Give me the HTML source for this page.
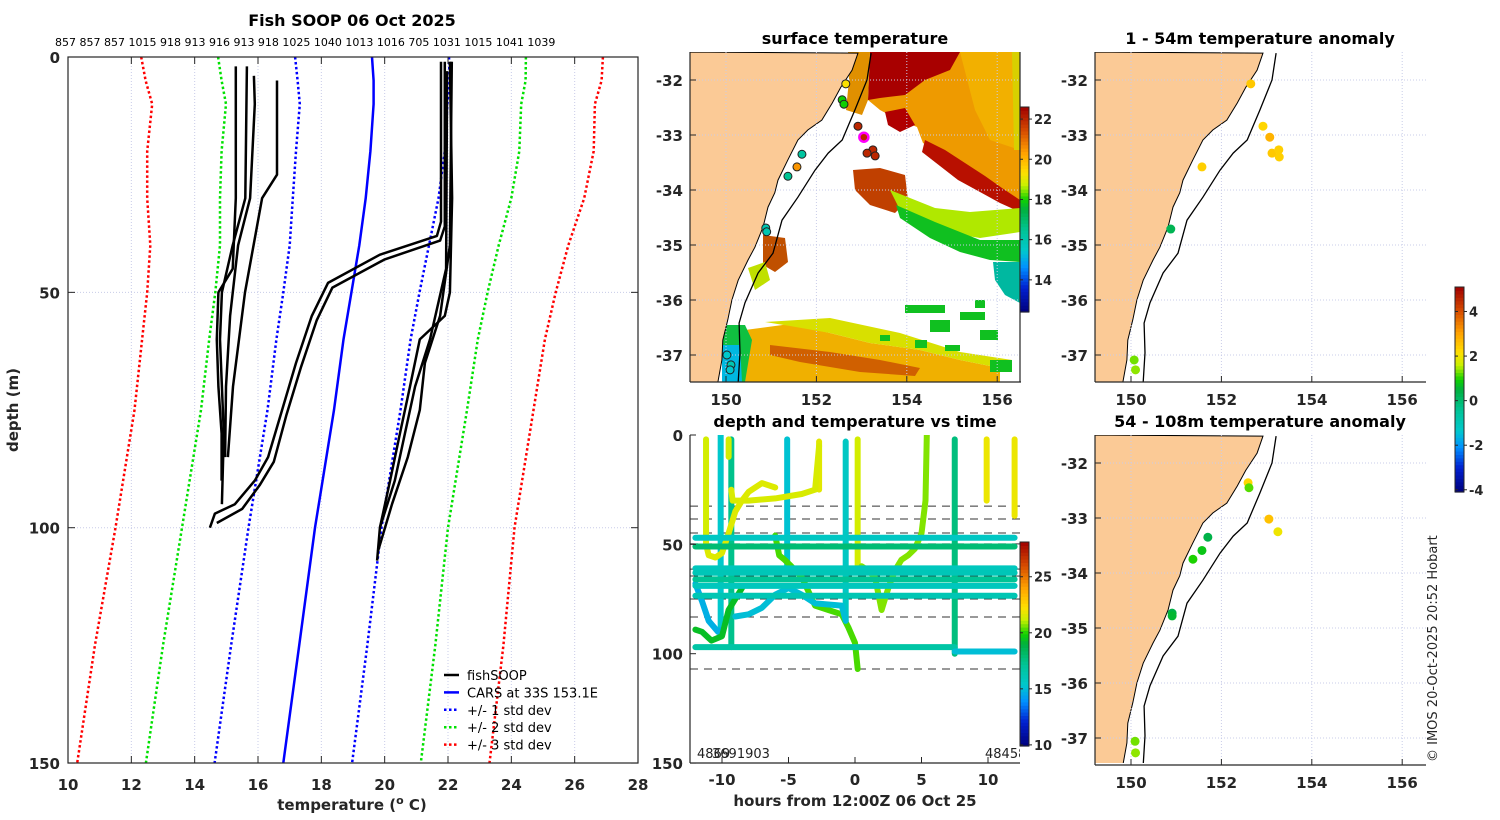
<!DOCTYPE html>
<html><head><meta charset="utf-8">
<style>
html,body{margin:0;padding:0;background:#fff;}
svg{display:block;font-family:"DejaVu Sans","Liberation Sans",sans-serif;}
.tk{font-size:15px;font-weight:bold;fill:#262626;}
.ttl{font-size:16px;font-weight:bold;fill:#000;}
</style></head>
<body>
<svg id="fig" width="1500" height="820" viewBox="0 0 1500 820" xmlns="http://www.w3.org/2000/svg">
<defs>
<clipPath id="cpL"><rect x="68" y="57" width="570" height="706"/></clipPath>
<clipPath id="cpM"><rect x="690" y="52" width="330" height="330"/></clipPath>
<clipPath id="cpB"><rect x="690" y="435" width="330" height="328"/></clipPath>
<clipPath id="cpR1"><rect x="1095" y="52" width="331" height="330"/></clipPath>
<clipPath id="cpR2"><rect x="1095" y="435" width="331" height="328"/></clipPath>
</defs>
<g id="left"></g>
<g id="sst"></g>
<g id="dvt"></g>
<g id="an1"></g>
<g id="an2"></g>
<text x="1437" y="762" transform="rotate(-90 1437 762)" font-size="13" fill="#262626">© IMOS 20-Oct-2025 20:52 Hobart</text>
</svg>
<script>
// ---------- Left profile chart data ----------
const carsDepth=[0,5,10,20,30,40,50,60,75,100,125,150];
const carsMean=[19.6,19.65,19.65,19.55,19.4,19.2,18.95,18.7,18.4,17.8,17.3,16.8];
const carsStd=[2.43,2.4,2.33,2.35,2.3,2.2,2.15,2.12,2.1,2.1,2.15,2.17];
const xTicksL=[10,12,14,16,18,20,22,24,26,28];
const yTicksL=[0,50,100,150];
const castIds=["857","857","857","1015","918","913","916","913","918","1025","1040","1013","1016","705","1031","1015","1041","1039"];
const p1D=[2,30,45,50,60,70,80,90], p1T=[15.3,15.3,15.2,14.75,14.7,14.75,14.85,14.85];
const p2D=[2,30,40,50,60,80,95], p2T=[15.65,15.6,15.2,14.86,14.8,14.92,14.86];
const p3D=[4,10,30,40,55,70,85], p3T=[15.87,15.9,15.75,15.37,15.12,14.99,14.96];
const p4D=[5,25,30,50,70,85], p4T=[16.6,16.6,16.13,15.59,15.21,15.05];
const p5D=[1,35,38,42,48,55,65,75,85,90,95,97,100], p5T=[21.78,21.78,21.65,19.85,18.21,17.7,17.2,16.76,16.32,15.9,15.27,14.64,14.48];
const p6D=[1,36,39,43,49,56,66,76,86,91,96,99], p6T=[21.9,21.9,21.75,20.0,18.35,17.85,17.35,16.9,16.5,16.05,15.5,14.7];
const p7D=[1,30,50,55,60,70,80,90,100,107], p7T=[22.06,22.13,22.06,21.9,21.11,20.8,20.48,20.17,19.85,19.76];
const p8D=[1,40,55,65,75,85,95,105], p8T=[22.12,22.06,21.75,21.27,21.11,20.73,20.23,19.79];
const p9D=[3,45,60,70,80,90,100], p9T=[21.97,21.94,21.43,20.96,20.64,20.32,19.85];
const profD=[p1D,p2D,p3D,p4D,p5D,p6D,p7D,p8D,p9D];
const profT=[p1T,p2T,p3T,p4T,p5T,p6T,p7T,p8T,p9T];

// ---------- Map data ----------
const coastLon=[152.92,152.79,152.54,152.35,152.12,151.81,151.59,151.37,151.15,151.08,150.93,150.82,150.64,150.49,150.27,150.13,150.04,149.93,149.91,149.82];
const coastLat=[-31.51,-31.82,-32.13,-32.42,-32.73,-32.91,-33.09,-33.45,-33.82,-34.05,-34.31,-34.67,-35.04,-35.27,-35.64,-36.0,-36.36,-36.73,-37.09,-37.49];
const shelfLon=[153.21,153.12,152.85,152.57,152.26,151.97,151.59,151.24,151.04,150.71,150.42,150.29,150.31,150.27];
const shelfLat=[-31.51,-32.0,-32.55,-33.09,-33.33,-33.64,-34.13,-34.55,-35.15,-35.51,-36.05,-36.42,-36.96,-37.49];
const mapLonTicks=[150,152,154,156];
const mapLatTicks=[-32,-33,-34,-35,-36,-37];
const sstLon=[152.65,152.57,152.61,152.92,153.25,153.12,153.30,151.68,151.57,151.37,150.88,150.9,150.02,150.11,150.09];
const sstLat=[-32.07,-32.36,-32.44,-32.84,-33.27,-33.33,-33.38,-33.35,-33.58,-33.75,-34.69,-34.76,-37.0,-37.18,-37.27];
const sstVal=[19.3,18,18,22,22,22,22,16.3,20.5,16.5,16,16,15.5,16,15.5];
const sstTicks=[14,16,18,20,22];
const an1Lon=[152.65,152.92,153.07,153.12,153.27,153.28,151.57,150.88,150.07,150.1];
const an1Lat=[-32.07,-32.84,-33.04,-33.33,-33.27,-33.4,-33.58,-34.71,-37.09,-37.27];
const an1Val=[2.5,2.3,2.8,2.5,2.4,2.4,2.4,0.3,1.3,1.4];
const an2Lon=[152.59,152.61,153.05,153.25,151.7,151.57,151.37,150.91,150.91,150.09,150.1];
const an2Lat=[-32.36,-32.45,-33.02,-33.25,-33.35,-33.59,-33.75,-34.73,-34.78,-37.06,-37.27];
const an2Val=[2.3,1.2,2.6,2.0,0.4,0.8,1.0,0.4,0.6,1.3,1.4];
const anTicks=[-4,-2,0,2,4];

// ---------- Depth vs time data ----------
const dvtXTicks=[-10,-5,0,5,10];
const dvtYTicks=[0,50,100,150];
const dvtCTicks=[10,15,20,25];
const dashDepth=[32.5,38.4,44.8,49.8,61.3,64.5,75,83.2,107];
const vpTime=[-11.2,-10.1,-9.3,-9.5,-5.1,-0.7,0.2,7.5,9.9,12,-2.7];
const vpTop=[2,0,2,2,2,3,2,2,2,2,3];
const vpBot=[50,90,97,10,62,85,60,100,30,37,25];
const vpTemp=[21.5,15.5,17.5,21.5,15.3,15.8,21.5,17.8,22,22,21.8];
const c1T=[-9.3,-9.2,-8,-6,-4,-3,-2.7], c1D=[25,30,30,29,27,25,5], c1C=21.6;
const c2T=[-11.2,-11,-10.5,-10,-9.5,-9,-8.5,-8,-7,-6], c2D=[50,55,56,54,45,35,30,26,22,24], c2C=21.7;
const c3T=[-6,-5.7,-5.3,-4.8,-4,-3,-2,-1,-0.5,0,0.2], c3D=[46,55,57,60,65,78,80,82,88,95,107], c3C=20.4;
const c4T=[-12,-11.5,-11,-10.3,-10], c4D=[68,76,85,90,89], c4C=14.8;
const c5T=[-12,-11.5,-10.8,-10,-9.5,-9,-8.5], c5D=[89,90,94,92,80,75,70], c5C=19.5;
const c6T=[-9,-8,-7,-6,-5,-4,-3,-1,-0.7], c6D=[83,82,79,73,70,73,77,78,85], c6C=15.2;
const c7T=[0.5,1,1.5,2,2.5,3,3.5,4,4.5,5,5.3,5.4], c7D=[60,62,65,80,70,62,57,55,52,45,30,0], c7C=20.8;
const curT=[c1T,c2T,c3T,c4T,c5T,c6T,c7T], curD=[c1D,c2D,c3D,c4D,c5D,c6D,c7D], curC=[c1C,c2C,c3C,c4C,c5C,c6C,c7C];
const hlDepth=[47,51,61,63,66,69,73.5,97,99];
const hlTemp=[15.8,18,16,16.2,17.3,16,16.3,16.8,15.2];
const hlStart=[-12,-12,-12,-12,-12,-12,-12,-12,7.5];
const hlEnd=[12,12,12,12,12,12,12,7.5,12];

// ---------- helpers ----------
const NS="http://www.w3.org/2000/svg";
function mk(tag,attrs,parent){const e=document.createElementNS(NS,tag);for(const k in attrs)e.setAttribute(k,attrs[k]);parent.appendChild(e);return e;}
const stops=[[0,[0,0,122]],[0.12,[0,32,208]],[0.22,[0,144,255]],[0.3,[0,200,205]],[0.4,[0,196,150]],[0.5,[0,176,64]],[0.55,[16,208,0]],[0.62,[200,240,0]],[0.68,[255,224,0]],[0.78,[255,160,0]],[0.88,[216,80,0]],[1,[160,0,0]]];
function cmap(v){v=Math.max(0,Math.min(1,v));for(let i=1;i<stops.length;i++){if(v<=stops[i][0]){const a=stops[i-1],b=stops[i];const f=(v-a[0])/(b[0]-a[0]);const c=a[1].map((x,j)=>Math.round(x+(b[1][j]-x)*f));return `rgb(${c[0]},${c[1]},${c[2]})`;}}return 'rgb(160,0,0)';}
function txt(parent,x,y,s,cls,anchor,extra){const t=mk('text',Object.assign({x:x,y:y,'text-anchor':anchor||'middle'},extra||{}),parent);if(cls)t.setAttribute('class',cls);t.textContent=s;return t;}
function colorbar(parent,x,y0,y1,vmin,vmax,ticks,name){
  const g=mk('g',{},parent);
  
  
  const n=60,h=(y1-y0)/n;
  for(let i=0;i<n;i++){mk('rect',{x:x,y:y1-(i+1)*h,width:9,height:h+0.6,fill:cmap((i+0.5)/n)},g);}
  mk('rect',{x:x,y:y0,width:9,height:y1-y0,fill:'none',stroke:'#262626','stroke-width':1},g);
  ticks.forEach(t=>{const yy=y1-(t-vmin)/(vmax-vmin)*(y1-y0);mk('line',{x1:x+9,x2:x+12,y1:yy,y2:yy,stroke:'#262626'},g);mk('line',{x1:x,x2:x+3,y1:yy,y2:yy,stroke:'#262626'},g);
    const lb=txt(g,x+14,yy+5,String(t),null,'start',{'font-size':13,'font-weight':'bold',fill:'#262626'});
    
    });
}

// ---------- Left chart ----------
(function(){
  const g=document.getElementById('left');
  const X=t=>68+(t-10)*31.667, Y=d=>57+d*4.707;
  txt(g,352,26,'Fish SOOP 06 Oct 2025','ttl');
  const ids=txt(g,55,46,castIds.join(' '),null,'start',{'font-size':11,fill:'#000'});
  
  
  xTicksL.forEach(t=>{if(t>10&&t<28){const gl=mk('line',{x1:X(t),x2:X(t),y1:57,y2:763,stroke:'#c8cce8','stroke-width':1,'stroke-dasharray':'1 2'},g);}});
  [50,100].forEach(d=>{const gl=mk('line',{x1:68,x2:638,y1:Y(d),y2:Y(d),stroke:'#c8cce8','stroke-width':1,'stroke-dasharray':'1 2'},g);});
  const cg=mk('g',{'clip-path':'url(#cpL)'},g);
  function pl(ts,ds,attrs,name){const pts=ts.map((t,i)=>X(t).toFixed(1)+','+Y(ds[i]).toFixed(1)).join(' ');const e=mk('polyline',Object.assign({points:pts,fill:'none'},attrs),cg);return e;}
  const cols=['#0000ff','#00e000','#ff0000'];
  [1,2,3].forEach((k,j)=>{
    pl(carsMean.map((m,i)=>m-k*carsStd[i]),carsDepth,{stroke:cols[j],'stroke-width':2.5,'stroke-dasharray':'2.5 2.5'},'minus-'+k+'-std-line');
    pl(carsMean.map((m,i)=>m+k*carsStd[i]),carsDepth,{stroke:cols[j],'stroke-width':2.5,'stroke-dasharray':'2.5 2.5'},'plus-'+k+'-std-line');
  });
  pl(carsMean,carsDepth,{stroke:'#0000ff','stroke-width':2.5},'cars-mean-line');
  profT.forEach((ts,i)=>pl(ts,profD[i],{stroke:'#000','stroke-width':2.5,'stroke-linejoin':'round'},'fishsoop-profile'));
  const ax=mk('rect',{x:68,y:57,width:570,height:706,fill:'none',stroke:'#262626','stroke-width':1.2},g);
  
  xTicksL.forEach(t=>{mk('line',{x1:X(t),x2:X(t),y1:763,y2:756,stroke:'#262626'},g);mk('line',{x1:X(t),x2:X(t),y1:57,y2:64,stroke:'#262626'},g);
    const l=txt(g,X(t),790,String(t),'tk');});
  yTicksL.forEach(d=>{mk('line',{x1:68,x2:75,y1:Y(d),y2:Y(d),stroke:'#262626'},g);mk('line',{x1:631,x2:638,y1:Y(d),y2:Y(d),stroke:'#262626'},g);
    const l=txt(g,60,Y(d)+6,String(d),'tk','end');});
  const xl=mk('text',{x:352,y:810,'text-anchor':'middle',class:'tk','font-size':16},g);
  xl.innerHTML='temperature (<tspan dy="-6" font-size="11">o</tspan><tspan dy="6"> C)</tspan>';
  
  const yl=txt(g,18,410,'depth (m)','tk','middle',{transform:'rotate(-90 18 410)'});
  
  const leg=[['fishSOOP','#000',''],['CARS at 33S 153.1E','#0000ff',''],['+/- 1 std dev','#0000ff','2.5 2.5'],['+/- 2 std dev','#00e000','2.5 2.5'],['+/- 3 std dev','#ff0000','2.5 2.5']];
  leg.forEach((l,i)=>{const yy=675+i*17.4;const lg=mk('g',{},g);
    mk('line',{x1:444,x2:459,y1:yy,y2:yy,stroke:l[1],'stroke-width':2.5,'stroke-dasharray':l[2]||'none'},lg);
    txt(lg,467,yy+5,l[0],null,'start',{'font-size':13,fill:'#000'});});
})();

// ---------- maps ----------
function mapBase(g,x0,y0,clip,lonAt150,withSST){
  const PX=lon=>lonAt150+(lon-150)*45.2, PY=lat=>y0+28+(-32-lat)*55;
  const cg=mk('g',{'clip-path':'url(#'+clip+')'},g);
  mk('rect',{x:x0,y:y0,width:331,height:330,fill:'#fff'},cg);
  if(withSST){
    const sg=mk('g',{},cg);
    
    
    const polys=[
      ['#ee9a00','870,52 1020,52 1020,207 1000,193 983,180 960,167 940,153 923,143 917,127 893,117 880,110 868,100'],
      ['#f2b000','960,52 1020,52 1020,150 990,140 975,110'],
      ['#d8d000','1012,52 1020,52 1020,150 1014,150'],
      ['#a80000','870,52 960,52 950,70 925,80 905,95 880,98 868,100'],
      ['#b00000','885,112 905,108 915,125 900,132 888,125'],
      ['#b81000','925,140 945,150 965,163 985,176 1002,188 1020,200 1020,212 1000,203 980,192 958,180 940,166 922,152'],
      ['#e09000','848,52 870,52 868,100 862,115 846,110 849,80'],
      ['#c04000','853,170 880,168 905,175 908,200 895,213 870,205 855,190'],
      ['#b0e800','890,190 910,198 935,208 970,212 1020,208 1020,232 980,238 950,233 925,226 900,210'],
      ['#10c020','896,205 935,222 980,240 1020,240 1020,262 990,260 960,252 930,238 900,218'],
      ['#00b8a0','993,262 1020,262 1020,303 1005,295 995,280'],
      ['#f0b000','745,330 790,324 830,333 870,343 920,350 960,360 1000,368 1000,382 745,382'],
      ['#d8e000','765,322 830,318 900,333 960,352 1012,360 1000,368 960,360 920,350 870,343 830,333 790,326'],
      ['#d06000','770,345 830,352 880,360 920,368 915,376 860,372 800,362 770,355'],
      ['#10c040','722,325 745,325 752,340 745,382 722,382'],
      ['#00b8e0','722,345 740,345 742,382 722,382'],
      ['#c05000','763,235 785,238 788,262 775,272 763,265'],
      ['#c0e000','748,268 765,262 770,280 755,290']
    ];
    polys.forEach(p=>{const e=mk('polygon',{points:p[1],fill:p[0]},sg);});
    [[905,305,40,8],[930,320,20,12],[960,312,25,8],[980,330,18,10],[915,340,12,8],[945,345,15,6],[990,360,22,12],[880,335,10,6],[975,300,10,8]].forEach(r=>{const e=mk('rect',{x:r[0],y:r[1],width:r[2],height:r[3],fill:'#10c020'},sg);});
  }
  let lp=coastLon.map((l,i)=>PX(l).toFixed(1)+','+PY(coastLat[i]).toFixed(1));
  lp.push(x0+','+PY(coastLat[coastLat.length-1]).toFixed(1));lp.push(x0+','+y0);
  const land=mk('polygon',{points:lp.join(' '),fill:'#fbca96',stroke:'#000','stroke-width':1},cg);
  
  
  mapLonTicks.forEach(l=>{const e=mk('line',{x1:PX(l),x2:PX(l),y1:y0,y2:y0+330,stroke:'#c8cce8','stroke-dasharray':'1 2'},cg);});
  mapLatTicks.forEach(l=>{const e=mk('line',{x1:x0,x2:x0+331,y1:PY(l),y2:PY(l),stroke:'#c8cce8','stroke-dasharray':'1 2'},cg);});
  const sh=mk('polyline',{points:shelfLon.map((l,i)=>PX(l).toFixed(1)+','+PY(shelfLat[i]).toFixed(1)).join(' '),fill:'none',stroke:'#000','stroke-width':1.3},cg);
  
  
  mk('line',{x1:x0,x2:x0,y1:y0,y2:y0+330,stroke:'#262626','stroke-width':1.2},g);
  mk('line',{x1:x0,x2:x0+331,y1:y0+330,y2:y0+330,stroke:'#262626','stroke-width':1.2},g);
  mapLonTicks.forEach(l=>{mk('line',{x1:PX(l),x2:PX(l),y1:y0+330,y2:y0+324,stroke:'#262626'},g);const t=txt(g,PX(l),y0+353,String(l),'tk');});
  mapLatTicks.forEach(l=>{mk('line',{x1:x0,x2:x0+6,y1:PY(l),y2:PY(l),stroke:'#262626'},g);const t=txt(g,x0-7,PY(l)+6,String(l),'tk','end');});
  return {PX,PY,cg};
}
(function(){
  const g=document.getElementById('sst');
  txt(g,855,44,'surface temperature','ttl');
  const m=mapBase(g,690,52,'cpM',726,true);
  mk('line',{x1:1020,x2:1020,y1:52,y2:382,stroke:'#262626','stroke-width':1.2},g);
  sstLon.forEach((l,i)=>{const c=mk('circle',{cx:m.PX(l),cy:m.PY(sstLat[i]),r:4,fill:cmap((sstVal[i]-12.4)/10.2),stroke:'#222','stroke-width':1},m.cg);});
  const mg=mk('circle',{cx:m.PX(153.05),cy:m.PY(-33.04),r:4.5,fill:'#c02000',stroke:'#ff00ff','stroke-width':2.5},m.cg);
  
  colorbar(g,1020,107,312,12.4,22.6,sstTicks,'sst-colorbar');
})();
function anomaly(id,y0,title,lons,lats,vals,name){
  const g=document.getElementById(id);
  txt(g,1260,y0-8,title,'ttl');
  const m=mapBase(g,1095,y0,id==='an1'?'cpR1':'cpR2',1131,false);
  lons.forEach((l,i)=>{const c=mk('circle',{cx:m.PX(l),cy:m.PY(lats[i]),r:4.5,fill:cmap((vals[i]+4.1)/9.2)},m.cg);});
}
anomaly('an1',52,'1 - 54m temperature anomaly',an1Lon,an1Lat,an1Val,'anomaly-shallow');
anomaly('an2',435,'54 - 108m temperature anomaly',an2Lon,an2Lat,an2Val,'anomaly-deep');
colorbar(document.getElementById('an1'),1455,287,492,-4.1,5.1,anTicks,'anomaly-colorbar');

// ---------- depth vs time ----------
(function(){
  const g=document.getElementById('dvt');
  const X=t=>855+t*13.3, Y=d=>435+d*2.187, C=v=>cmap((v-10)/18.2);
  txt(g,855,427,'depth and temperature vs time','ttl');
  const cg=mk('g',{'clip-path':'url(#cpB)'},g);
  dashDepth.forEach(d=>{const e=mk('line',{x1:690,x2:1020,y1:Y(d),y2:Y(d),stroke:'#333','stroke-width':1,'stroke-dasharray':'8 6'},cg);});
  vpTime.forEach((t,i)=>{const e=mk('line',{x1:X(t),x2:X(t),y1:Y(vpTop[i]),y2:Y(vpBot[i]),stroke:C(vpTemp[i]),'stroke-width':6,'stroke-linecap':'round'},cg);});
  curT.forEach((ts,i)=>{const e=mk('polyline',{points:ts.map((t,j)=>X(t).toFixed(1)+','+Y(curD[i][j]).toFixed(1)).join(' '),fill:'none',stroke:C(curC[i]),'stroke-width':6,'stroke-linecap':'round','stroke-linejoin':'round'},cg);});
  hlDepth.forEach((d,i)=>{const e=mk('line',{x1:X(hlStart[i]),x2:X(hlEnd[i]),y1:Y(d),y2:Y(d),stroke:C(hlTemp[i]),'stroke-width':6,'stroke-linecap':'round'},cg);});
  txt(cg,697,758,'4869',null,'start',{'font-size':13,fill:'#222'});
  txt(cg,712,758,'3691903',null,'start',{'font-size':13,fill:'#222'});
  txt(cg,985,758,'4845851',null,'start',{'font-size':13,fill:'#222'});
  mk('line',{x1:690,x2:690,y1:435,y2:763,stroke:'#262626','stroke-width':1.2},g);
  mk('line',{x1:690,x2:1020,y1:763,y2:763,stroke:'#262626','stroke-width':1.2},g);
  dvtXTicks.forEach(t=>{mk('line',{x1:X(t),x2:X(t),y1:763,y2:757,stroke:'#262626'},g);const l=txt(g,X(t),785,String(t),'tk');});
  dvtYTicks.forEach(d=>{mk('line',{x1:690,x2:696,y1:Y(d),y2:Y(d),stroke:'#262626'},g);const l=txt(g,683,Y(d)+6,String(d),'tk','end');});
  const xl=txt(g,855,806,'hours from 12:00Z 06 Oct 25','tk','middle',{'font-size':16});
  
  colorbar(g,1020,542,746,9.9,28.1,dvtCTicks,'dvt-colorbar');
})();
</script>
</body></html>
